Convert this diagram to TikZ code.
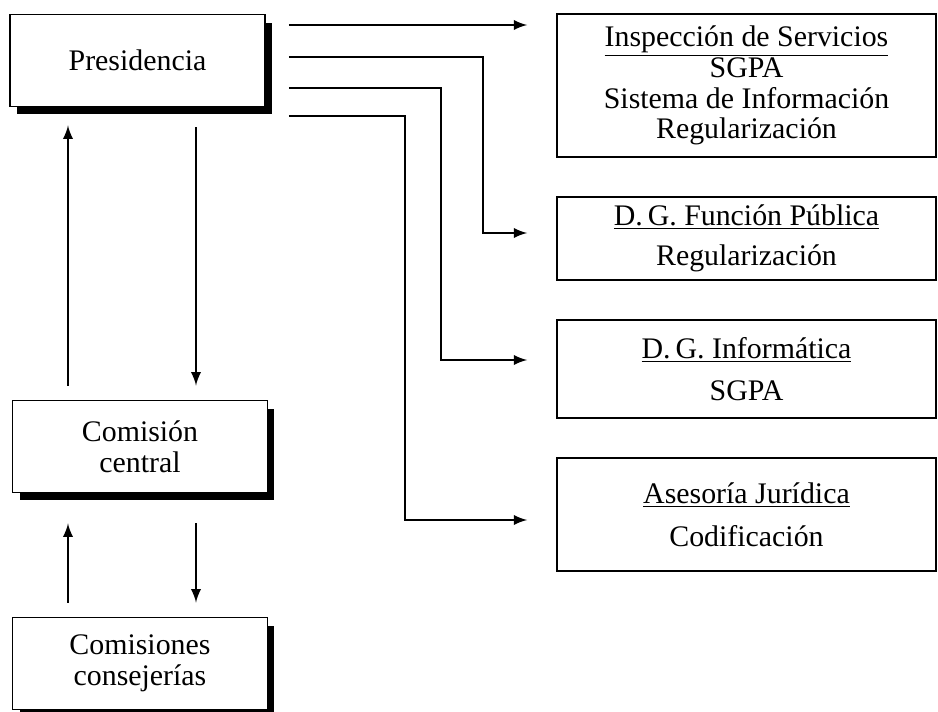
\documentclass[tikz,border=0pt]{standalone}
\usepackage{fontspec}
\setmainfont{Liberation Serif}
\usetikzlibrary{shadows}

\begin{document}
\begin{tikzpicture}[x=0.02cm, y=-0.02cm,
  leftbox/.style={rectangle, draw, line width=1.1pt, fill=white,
                  minimum width=5.1cm, minimum height=1.84cm, align=center,
                  font=\fontsize{17}{17.5}\selectfont,
                  drop shadow={shadow xshift=0.14cm, shadow yshift=-0.16cm, fill=black, opacity=1}},
  rightbox/.style={rectangle, draw, line width=1pt, fill=white,
                   minimum width=7.58cm, align=center,
                   font=\fontsize{17}{17.5}\selectfont},
  arrow/.style={->, >=latex, line width=1.6pt},
  link/.style={arrow, shorten <=0.46cm, shorten >=0.58cm},
]
  \useasboundingbox (0,0) rectangle (938,712);

  % left column
  \node[leftbox] (pres)    at (137.5,60.5) {Presidencia};
  \node[leftbox] (central) at (140,446.5)  {Comisión\\central};
  \node[leftbox] (conse)   at (140,663.5)  {Comisiones\\consejerías};

  % right column
  \node[rightbox, minimum height=2.86cm] (insp) at (746.5,85.5)
    {\underline{Inspección de Servicios}\\SGPA\\Sistema de Información\\Regularización};
  \node[rightbox, minimum height=1.66cm] (funcion) at (746.5,238.5)
    {\underline{D.\,G. Función Pública}\\[5pt]Regularización};
  \node[rightbox, minimum height=1.96cm] (informatica) at (746.5,369)
    {\underline{D.\,G. Informática}\\[6pt]SGPA};
  \node[rightbox, minimum height=2.26cm] (asesoria) at (746.5,514.5)
    {\underline{Asesoría Jurídica}\\[7pt]Codificación};

  \coordinate (colL) at (68,0);
  \coordinate (colR) at (196,0);
  \coordinate (h1) at (0,25);
  \coordinate (b2) at (483,57);
  \coordinate (b3) at (441,88);
  \coordinate (b4) at (405,116);

  % up and down between the committees
  \draw[arrow, shorten <=0.28cm, shorten >=0.36cm] (central.north -| colL) -- (pres.south -| colL);
  \draw[arrow, shorten <=0.4cm, shorten >=0.28cm]  (pres.south -| colR) -- (central.north -| colR);
  \draw[arrow, shorten <=0.28cm, shorten >=0.6cm]  (conse.north -| colL) -- (central.south -| colL);
  \draw[arrow, shorten <=0.6cm, shorten >=0.28cm]  (central.south -| colR) -- (conse.north -| colR);

  % from Presidencia to the units
  \draw[link] (pres.east |- h1) -- (insp.west |- h1);
  \draw[link] (pres.east |- b2) -- (b2) |- ([yshift=0.11cm]funcion.west);
  \draw[link] (pres.east |- b3) -- (b3) |- ([yshift=0.18cm]informatica.west);
  \draw[link] (pres.east |- b4) -- (b4) |- ([yshift=-0.11cm]asesoria.west);
\end{tikzpicture}
\end{document}
